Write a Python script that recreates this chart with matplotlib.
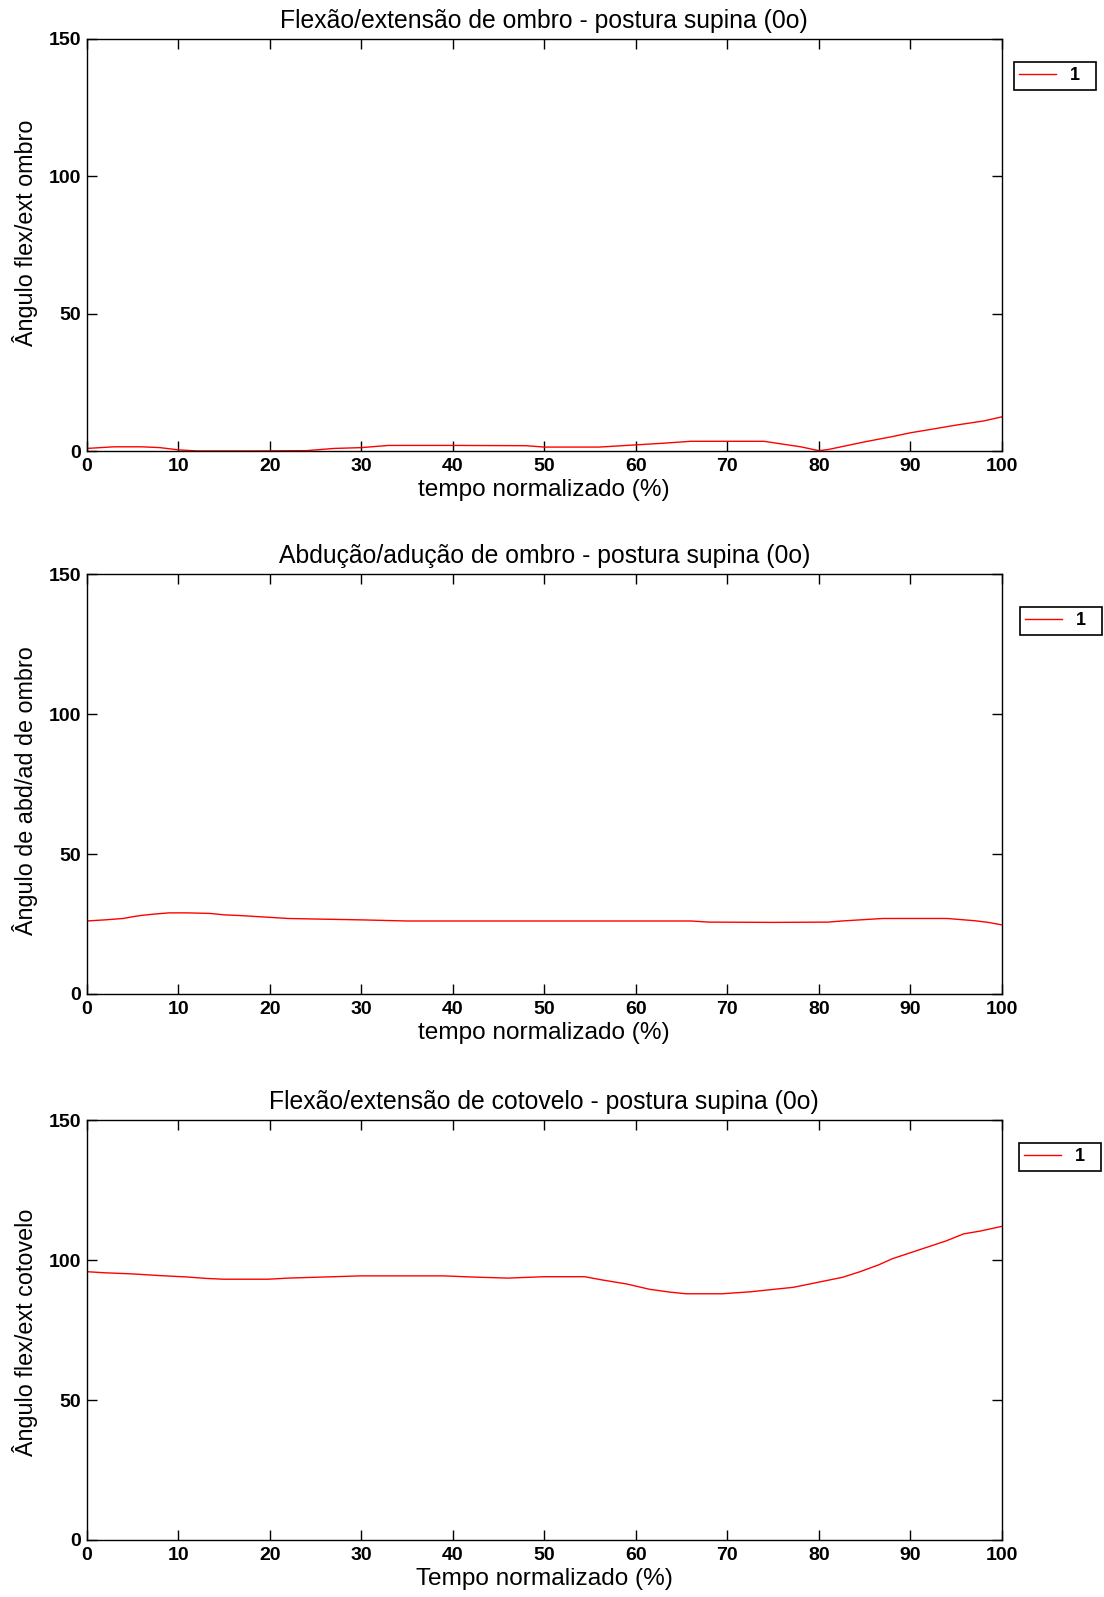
import matplotlib
matplotlib.use("Agg")
import matplotlib.pyplot as plt
import numpy as np

# ---- data ----
x_ticks = [0, 10, 20, 30, 40, 50, 60, 70, 80, 90, 100]
y_ticks = [0, 50, 100, 150]

# Panel 1: shoulder flexion/extension
x1 = [0, 3, 6, 8, 10, 12, 18, 24, 27, 30, 33, 40, 48, 50, 56, 60, 63, 66, 70, 74, 76, 78, 80, 81, 83, 85, 88, 90, 92, 95, 98, 100]
y1 = [1.0, 1.6, 1.6, 1.3, 0.5, 0.1, 0.1, 0.2, 1.0, 1.3, 2.1, 2.1, 2.0, 1.5, 1.5, 2.3, 2.9, 3.6, 3.6, 3.6, 2.6, 1.6, 0.2, 0.6, 2.0, 3.4, 5.3, 6.7, 7.8, 9.5, 11.0, 12.5]

# Panel 2: shoulder abduction/adduction
x2 = [0, 2, 4, 5, 6, 7.5, 9, 11, 13.5, 15, 17, 19.5, 22, 25, 30, 35, 45, 55, 66, 68, 75, 81, 82.5, 85, 87, 90, 94, 95.5, 97, 98.5, 100]
y2 = [26.1, 26.5, 27.0, 27.6, 28.1, 28.6, 29.0, 29.0, 28.8, 28.3, 28.0, 27.5, 27.0, 26.8, 26.5, 26.1, 26.1, 26.1, 26.1, 25.7, 25.6, 25.7, 26.1, 26.6, 27.0, 27.0, 27.0, 26.6, 26.2, 25.6, 24.7]

# Panel 3: elbow flexion/extension
x3 = [0, 2, 5, 8, 11, 13, 15, 19.8, 22, 26, 30, 39, 42, 46, 50, 54.4, 56.4, 59, 61.5, 63.7, 65.5, 69.4, 72.5, 75.4, 77.2, 80.8, 82.6, 84.5, 86.5, 88, 90.3, 93.9, 95.8, 97.6, 100]
y3 = [95.9, 95.5, 95.1, 94.5, 94.0, 93.5, 93.2, 93.2, 93.6, 94.0, 94.4, 94.4, 94.0, 93.6, 94.1, 94.1, 92.9, 91.5, 89.6, 88.6, 88.0, 88.0, 88.7, 89.7, 90.3, 92.7, 93.9, 95.9, 98.3, 100.5, 103.0, 106.9, 109.4, 110.4, 112.1]

titles = [
    "Flexão/extensão de ombro - postura supina (0o)",
    "Abdução/adução de ombro - postura supina (0o)",
    "Flexão/extensão de cotovelo - postura supina (0o)",
]
ylabels = [
    "Ângulo flex/ext ombro",
    "Ângulo de abd/ad de ombro",
    "Ângulo flex/ext cotovelo",
]
xlabels = [
    "tempo normalizado (%)",
    "tempo normalizado (%)",
    "Tempo normalizado (%)",
]
legend_label = "1"

# ---- layout ----
W, H = 1104, 1597
fig = plt.figure(figsize=(W / 100, H / 100), dpi=100)
plt.rcParams['font.family'] = ['Liberation Sans', 'DejaVu Sans']

axes_px = [  # left, top, right, bottom in pixels
    (86.6, 38.7, 1002.0, 451.2),
    (86.6, 574.4, 1002.0, 994.0),
    (86.6, 1120.3, 1002.0, 1540.0),
]
# legend boxes in pixels: left, top, right, bottom
legend_px = [
    (1014, 62, 1096, 90),
    (1020, 607, 1102, 636),
    (1019, 1143, 1101, 1172),
]
ylabel_center_y_px = [233.2, 790.3, 1332.2]
ylabel_center_x_px = 25.0

tick_font = dict(family=['Liberation Sans Narrow', 'Liberation Sans', 'DejaVu Sans'], weight='bold', size=14)

data = [(x1, y1), (x2, y2), (x3, y3)]
for i, (l, t, r, b) in enumerate(axes_px):
    ax = fig.add_axes([l / W, 1 - b / H, (r - l) / W, (b - t) / H])
    xs, ys = data[i]
    ax.plot(xs, ys, color='red', linewidth=1.0, label=legend_label)
    ax.set_xlim(0, 100)
    ax.set_ylim(0, 150)
    ax.set_xticks(x_ticks)
    ax.set_yticks(y_ticks)
    ax.set_xticklabels([str(v) for v in x_ticks], fontdict=tick_font)
    ax.set_yticklabels([str(v) for v in y_ticks], fontdict=tick_font)
    ax.tick_params(direction='in', length=7, width=1, top=True, right=True, colors='black')
    ax.tick_params(axis='x', pad=5)
    ax.tick_params(axis='y', pad=4)
    for s in ax.spines.values():
        s.set_linewidth(1.0)
        s.set_color('black')
    ax.set_title(titles[i], fontsize=17.8, pad=8)
    ax.set_xlabel(xlabels[i], fontsize=17.6, labelpad=3)
    ax.set_ylabel(ylabels[i], fontsize=16.8, va='center')
    ax.yaxis.set_label_coords((ylabel_center_x_px - l) / (r - l),
                              (b - ylabel_center_y_px[i]) / (b - t))

    ll, lt, lr, lb = legend_px[i]
    bx = (ll - l) / (r - l)
    bw = (lr - ll) / (r - l)
    bh = (lb - lt) / (b - t)
    by = (b - lb) / (b - t)
    leg = ax.legend(loc='upper left', bbox_to_anchor=(bx, by, bw, bh), mode='expand',
                    borderaxespad=0, fancybox=False, framealpha=1, edgecolor='black',
                    handlelength=2.0, handletextpad=0.8, borderpad=0.3,
                    prop=dict(family=['Liberation Sans', 'DejaVu Sans'], weight='bold', size=13))
    leg.get_frame().set_linewidth(1.2)

fig.savefig("out.png", dpi=100, facecolor='white')
